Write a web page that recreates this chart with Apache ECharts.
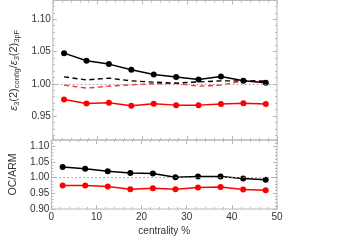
<!DOCTYPE html>
<html><head><meta charset="utf-8">
<script src="https://cdn.jsdelivr.net/npm/echarts@6/dist/echarts.min.js"></script>
<style>html,body{margin:0;padding:0;background:#fff}#c{width:353px;height:240px}</style>
</head><body><div id="c"></div>
<script>
const centrality = [2.5, 7.5, 12.5, 17.5, 22.5, 27.5, 32.5, 37.5, 42.5, 47.5];
const topBlackSolid  = [1.0475, 1.0356, 1.0305, 1.0217, 1.0144, 1.0104, 1.0067, 1.0113, 1.0046, 1.0015];
const topRedSolid    = [0.9757, 0.9695, 0.9706, 0.9660, 0.9690, 0.9670, 0.9670, 0.9686, 0.9700, 0.9686];
const topBlackDashed = [1.0108, 1.0060, 1.0088, 1.0046, 1.0026, 1.0010, 1.0030, 1.0046, 1.0046, 1.0040];
const topRedDashed   = [0.9980, 0.9933, 0.9964, 0.9985, 1.0000, 1.0005, 0.9964, 0.9980, 1.0046, 1.0046];
const botBlack = [1.034, 1.028, 1.020, 1.015, 1.013, 1.001, 1.004, 1.004, 0.997, 0.9935];
const botRed   = [0.975, 0.975, 0.972, 0.963, 0.9665, 0.963, 0.9687, 0.970, 0.962, 0.960];
const xTicks = [0, 10, 20, 30, 40, 50];
const topYTicks = [0.95, 1.00, 1.05, 1.10];
const botYTicks = [0.90, 0.95, 1.00, 1.05, 1.10];
const topYRange = [0.913, 1.129];
const botYRange = [0.90, 1.12];

function minorVals(lo, hi) {
  const out = [];
  for (let k = Math.ceil(lo * 100 - 1e-6); k <= Math.floor(hi * 100 + 1e-6); k++) out.push(+(k / 100).toFixed(2));
  return out;
}
const pair = (arr) => arr.map((v, i) => [centrality[i], v]);

const frame = '#b8b8b8';
const txt = '#333';
const font = 'Liberation Sans, Arial, sans-serif';

function xAxis(grid, pos, showLabel, name) {
  return {
    type: 'value', gridIndex: grid, position: pos, min: 0, max: 50, interval: 10,
    axisLine: { show: false }, splitLine: { show: false },
    axisTick: { show: true, inside: true, length: 4, lineStyle: { color: frame } },
    minorTick: { show: true, splitNumber: 5, length: 2, lineStyle: { color: frame } },
    axisLabel: { show: showLabel, color: txt, fontSize: 10, fontFamily: font, margin: 3,
      customValues: xTicks, formatter: v => String(v) },
    name: name || '', nameLocation: 'middle', nameGap: 17,
    nameTextStyle: { color: txt, fontSize: 10, fontFamily: font }
  };
}
function yAxis(grid, pos, range, majors, major, showLabel, name, nameCfg) {
  const o = {
    type: 'value', gridIndex: grid, position: pos, min: range[0], max: range[1],
    axisLine: { show: false }, splitLine: { show: false },
    axisTick: { show: true, inside: true, length: major ? 4 : 2, lineStyle: { color: frame },
      customValues: major ? majors : minorVals(range[0], range[1]) },
    axisLabel: { show: showLabel, color: txt, fontSize: 10, fontFamily: font, margin: 2,
      customValues: majors, formatter: v => v.toFixed(2) }
  };
  if (name) Object.assign(o, { name: name, nameLocation: 'middle', nameRotate: 90 }, nameCfg);
  return o;
}

const topName = '{it|ε}{sub|3}{n|(2)}{sub|config}{n|/}{it|ε}{sub|3}{n|(2)}{sub|3pF}';
const topNameCfg = {
  nameGap: 23,
  nameTextStyle: {
    color: txt, fontFamily: font, fontSize: 11,
    rich: {
      it: { fontSize: 11, fontStyle: 'italic', fontFamily: font, color: txt },
      n: { fontSize: 11, fontFamily: font, color: txt },
      sub: { fontSize: 7.5, fontFamily: font, color: txt, padding: [6, 0, 0, 0] }
    }
  }
};
const botNameCfg = { nameGap: 23, nameTextStyle: { color: txt, fontSize: 10.5, fontFamily: font } };

const xAxes = [
  xAxis(0, 'bottom', false), xAxis(0, 'top', false),
  xAxis(1, 'bottom', true, 'centrality %'), xAxis(1, 'top', false)
];
const yAxes = [
  yAxis(0, 'left', topYRange, topYTicks, true, true, topName, topNameCfg),
  yAxis(0, 'left', topYRange, topYTicks, false, false),
  yAxis(0, 'right', topYRange, topYTicks, true, false),
  yAxis(0, 'right', topYRange, topYTicks, false, false),
  yAxis(1, 'left', botYRange, botYTicks, true, true, 'OC/ARM', botNameCfg),
  yAxis(1, 'left', botYRange, botYTicks, false, false),
  yAxis(1, 'right', botYRange, botYTicks, true, false),
  yAxis(1, 'right', botYRange, botYTicks, false, false)
];

const dotted = { silent: true, symbol: 'none', label: { show: false },
  lineStyle: { color: '#9a9a9a', type: [1.5, 2.5], width: 1 }, data: [{ yAxis: 1 }] };

function solid(data, color, xi, yi, ml) {
  return { type: 'line', xAxisIndex: xi, yAxisIndex: yi, data: pair(data),
    symbol: 'circle', symbolSize: 6, color: color,
    lineStyle: { color: color, width: 1.5 }, itemStyle: { color: color },
    markLine: ml ? dotted : undefined, animation: false, z: 3 };
}
function dashed(data, color, xi, yi) {
  return { type: 'line', xAxisIndex: xi, yAxisIndex: yi, data: pair(data),
    symbol: 'none', lineStyle: { color: color, width: 1.4, type: [5, 3.5] }, animation: false, z: 2 };
}

const chart = echarts.init(document.getElementById('c'), null, { renderer: 'canvas' });
chart.setOption({
  backgroundColor: '#fff',
  animation: false,
  grid: [
    { left: 51, top: 0.5, width: 226, height: 139.5, show: true, borderColor: frame, borderWidth: 1, backgroundColor: 'transparent' },
    { left: 51, top: 140, width: 226, height: 69, show: true, borderColor: frame, borderWidth: 1, backgroundColor: 'transparent' }
  ],
  xAxis: xAxes,
  yAxis: yAxes,
  series: [
    dashed(topRedDashed, '#ff2a2a', 0, 0),
    dashed(topBlackDashed, '#000', 0, 0),
    solid(topBlackSolid, '#000', 0, 0, true),
    solid(topRedSolid, '#ff0000', 0, 0),
    solid(botBlack, '#000', 2, 4, true),
    solid(botRed, '#ff0000', 2, 4)
  ]
});
</script></body></html>
